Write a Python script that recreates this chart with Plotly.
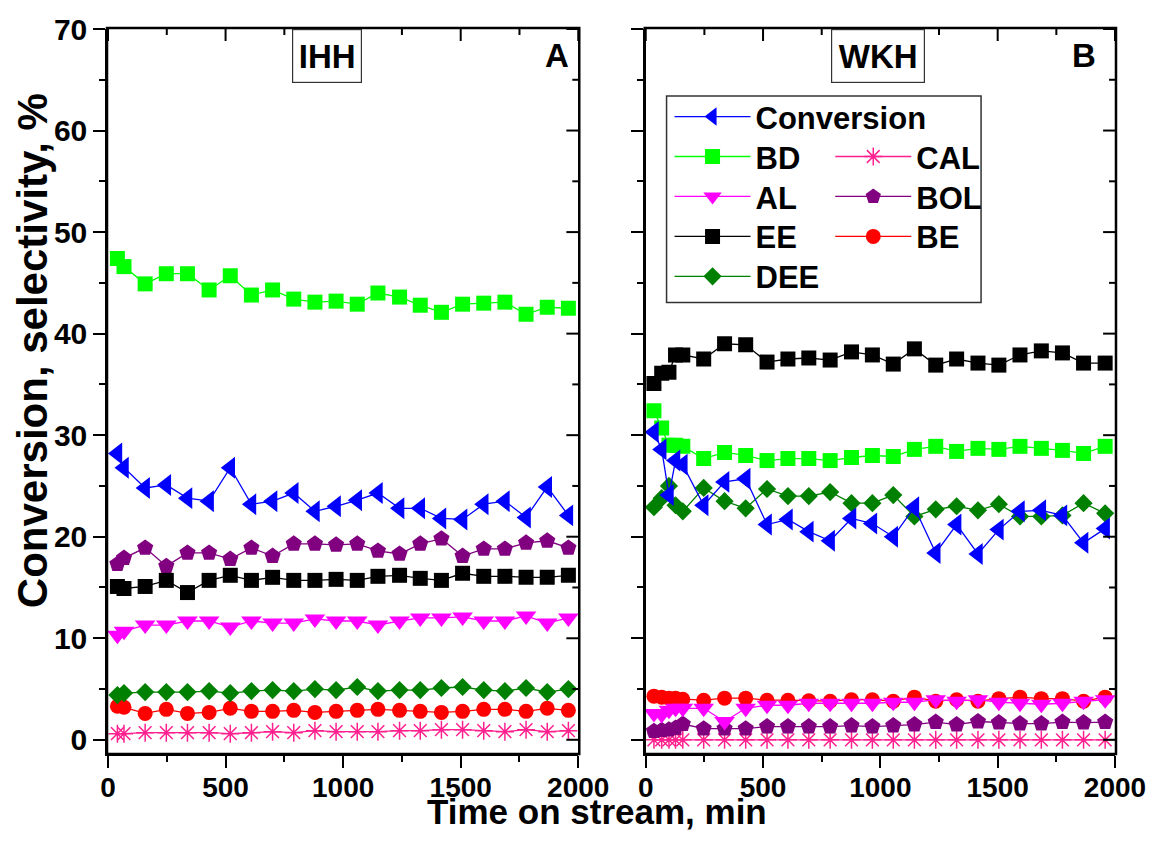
import plotly.graph_objects as go

# ---------------- data ----------------
time_a = [40, 68, 158, 248, 338, 430, 520, 610, 700, 790, 880, 970, 1060, 1148,
          1240, 1328, 1418, 1508, 1598, 1688, 1778, 1868, 1958]
conv_a = [28.2, 26.8, 24.8, 25.1, 23.8, 23.5, 26.8, 23.2, 23.5, 24.3, 22.5, 23.0,
          23.6, 24.3, 22.8, 22.8, 21.8, 21.7, 23.2, 23.5, 21.9, 24.9, 22.1]
bd_a = [47.4, 46.6, 44.9, 45.9, 45.9, 44.3, 45.7, 43.8, 44.3, 43.4, 43.1, 43.2,
        42.9, 44.0, 43.6, 42.8, 42.1, 42.9, 43.0, 43.1, 41.9, 42.6, 42.5]
cal_a = [0.6, 0.6, 0.7, 0.7, 0.7, 0.7, 0.6, 0.7, 0.8, 0.7, 0.9, 0.8,
         0.8, 0.8, 0.9, 0.9, 1.0, 1.0, 0.9, 0.8, 1.0, 0.8, 0.9]
al_a = [10.3, 10.7, 11.3, 11.3, 11.7, 11.7, 11.1, 11.7, 11.5, 11.5, 11.9, 11.7,
        11.7, 11.3, 11.7, 12.0, 12.0, 12.1, 11.7, 11.7, 12.2, 11.5, 12.0]
bol_a = [17.3, 17.9, 18.9, 17.1, 18.4, 18.4, 17.8, 18.9, 18.1, 19.3, 19.3, 19.2,
         19.3, 18.6, 18.3, 19.3, 19.8, 18.1, 18.8, 18.8, 19.4, 19.6, 18.9]
ee_a = [15.1, 14.9, 15.1, 15.7, 14.5, 15.7, 16.2, 15.7, 16.0, 15.7, 15.7, 15.8,
        15.7, 16.1, 16.2, 15.9, 15.7, 16.4, 16.1, 16.1, 16.0, 16.0, 16.2]
be_a = [3.3, 3.2, 2.6, 3.0, 2.6, 2.7, 3.1, 2.8, 2.8, 2.9, 2.7, 2.8,
        2.9, 3.0, 2.9, 2.8, 2.7, 2.8, 3.0, 3.0, 2.8, 3.1, 2.9]
dee_a = [4.4, 4.6, 4.7, 4.7, 4.7, 4.8, 4.6, 4.8, 4.9, 4.8, 5.0, 4.9,
         5.2, 4.8, 4.9, 4.9, 5.1, 5.2, 4.9, 4.8, 5.1, 4.7, 5.0]

time_b = [35, 68, 99, 127, 158, 247, 336, 426, 517, 606, 695, 786, 877, 966,
          1055, 1145, 1236, 1325, 1416, 1505, 1595, 1686, 1776, 1866, 1958]
conv_b = [30.3, 28.6, 24.1, 27.5, 27.1, 23.1, 25.4, 25.7, 21.2, 21.7, 20.5, 19.6,
          21.8, 21.3, 20.0, 22.9, 18.4, 21.2, 18.3, 20.7, 22.5, 22.6, 22.1, 19.4, 20.8]
bd_b = [32.4, 30.7, 29.0, 29.0, 28.9, 27.7, 28.3, 28.0, 27.5, 27.7, 27.7, 27.5,
        27.8, 28.0, 27.9, 28.6, 28.9, 28.4, 28.7, 28.6, 28.9, 28.7, 28.5, 28.2, 28.9]
cal_b = [0.0, 0.0, 0.0, 0.0, 0.0, 0.0, 0.0, 0.0, 0.0, 0.0, 0.0, 0.0,
         0.0, 0.0, 0.0, 0.0, 0.0, 0.0, 0.0, 0.0, 0.0, 0.0, 0.0, 0.0, 0.0]
al_b = [2.6, 2.5, 2.9, 3.1, 3.1, 3.1, 1.8, 3.1, 3.4, 3.4, 3.6, 3.6,
        3.6, 3.6, 3.7, 3.7, 3.95, 3.8, 3.95, 3.7, 3.6, 3.5, 3.6, 3.8, 3.95]
bol_b = [0.85, 0.95, 1.0, 1.15, 1.55, 1.1, 1.1, 1.1, 1.3, 1.3, 1.3, 1.3,
         1.4, 1.3, 1.4, 1.5, 1.75, 1.5, 1.8, 1.7, 1.6, 1.6, 1.75, 1.7, 1.75]
ee_b = [35.1, 36.1, 36.2, 37.9, 37.9, 37.5, 39.0, 38.9, 37.2, 37.5, 37.6, 37.4,
        38.2, 37.9, 37.0, 38.5, 36.9, 37.5, 37.1, 36.9, 37.9, 38.3, 38.1, 37.1, 37.1]
be_b = [4.3, 4.2, 4.1, 4.1, 4.0, 3.9, 4.1, 4.1, 3.9, 3.9, 3.85, 3.8,
        3.95, 3.95, 3.8, 4.2, 3.8, 3.95, 3.8, 4.05, 4.2, 4.05, 4.05, 3.8, 4.2]
dee_b = [22.9, 23.8, 25.0, 23.1, 22.5, 24.8, 23.5, 22.8, 24.7, 24.0, 24.0, 24.4,
         23.3, 23.3, 24.1, 22.0, 22.7, 23.0, 22.6, 23.2, 22.0, 22.0, 22.1, 23.3, 22.3]

x_ticks = [0, 500, 1000, 1500, 2000]
x_minor = [250, 750, 1250, 1750]
y_ticks = [0, 10, 20, 30, 40, 50, 60, 70]
y_minor = [5, 15, 25, 35, 45, 55, 65]

# ---------------- geometry helpers ----------------
W, H = 1158, 841
ML, MR, MT, MB = 108, 35, 28, 88
PW = W - ML - MR
PH = H - MT - MB


def px_x(p):
    return (p - ML) / PW


def px_y(p):
    return 1 - (p - MT) / PH


FONT = "Liberation Sans, Arial, sans-serif"

# legend slots: (legend id, left x px, row centre y px)
LEFT_COL, RIGHT_COL = 674, 836
series = [
    # name, data A, data B, color, symbol, size, legend id, col x, row y
    ("BE", be_a, be_b, "#FF0000", "circle", 15, "legend7", RIGHT_COL, 238),
    ("CAL", cal_a, cal_b, "#FF1F8F", "asterisk-open", 15, "legend3", RIGHT_COL, 158),
    ("BOL", bol_a, bol_b, "#800080", "pentagon", 17, "legend5", RIGHT_COL, 198),
    ("AL", al_a, al_b, "#FF00FF", "triangle-down", 18, "legend4", LEFT_COL, 198),
    ("EE", ee_a, ee_b, "#000000", "square", 15, "legend6", LEFT_COL, 238),
    ("DEE", dee_a, dee_b, "#008000", "diamond", 14, "legend8", LEFT_COL, 278),
    ("BD", bd_a, bd_b, "#00FF00", "square", 15, "legend2", LEFT_COL, 158),
    ("Conversion", conv_a, conv_b, "#0000FF", "triangle-left", 19, "legend", LEFT_COL, 118),
]

fig = go.Figure()
legend_layouts = {}
legfont = dict(family=FONT, size=31, color="black", weight="bold")
for name, ya, yb, col, sym, sz, leg, lx, ly in series:
    is_open = sym.endswith("open")
    mk = dict(color=col, symbol=sym, size=sz,
              line=dict(color=col, width=1.5 if is_open else 0))
    fig.add_trace(go.Scatter(x=time_a, y=ya, mode="lines+markers", name=name,
                             line=dict(color=col, width=1.3), marker=mk,
                             showlegend=False, xaxis="x", yaxis="y"))
    fig.add_trace(go.Scatter(x=time_b, y=yb, mode="lines+markers", name=name,
                             line=dict(color=col, width=1.3), marker=mk,
                             showlegend=True, legend=leg,
                             xaxis="x2", yaxis="y2"))
    legend_layouts[leg] = dict(x=px_x(lx), y=px_y(ly - 29), xanchor="left",
                               yanchor="top", bgcolor="rgba(0,0,0,0)",
                               borderwidth=0, itemwidth=76, font=legfont)

dom_a = [0, px_x(582)]
dom_b = [px_x(650), 1]
xr = [0, 2000]
yr = [-1.3, 70]

LW = 2.5
xtickfont = dict(family=FONT, size=28, color="black", weight="bold")
ytickfont = dict(family=FONT, size=30, color="black", weight="bold")
common_x = dict(range=xr, tickvals=x_ticks, showline=True, linewidth=LW,
                linecolor="black", showgrid=False, zeroline=False,
                ticks="outside", ticklen=12, tickwidth=2, tickcolor="black",
                minor=dict(tickvals=x_minor, ticklen=6, tickwidth=2,
                           tickcolor="black"))
common_y = dict(range=yr, tickvals=y_ticks, showline=True, linewidth=LW,
                linecolor="black", showgrid=False, zeroline=False,
                ticks="outside", ticklen=12, tickwidth=2, tickcolor="black",
                minor=dict(tickvals=y_minor, ticklen=6,
                           tickwidth=2, tickcolor="black"))

fig.update_layout(
    width=W, height=H,
    margin=dict(l=ML, r=MR, t=MT, b=MB),
    paper_bgcolor="white", plot_bgcolor="white",
    font=dict(family=FONT, color="black"),
    xaxis=dict(domain=dom_a, anchor="y", tickfont=xtickfont,
               ticklabelstandoff=-4, **common_x),
    yaxis=dict(domain=[0, 1], anchor="x", tickfont=ytickfont, **common_y),
    xaxis2=dict(domain=dom_b, anchor="y2", tickfont=xtickfont,
                ticklabelstandoff=-4, **common_x),
    yaxis2=dict(domain=[0, 1], anchor="x2", showticklabels=False, **common_y),
    showlegend=True,
    **legend_layouts,
)

# ---- full frame box and inward ticks on top / right (layout shapes) ----
frame = dict(color="black", width=LW)
tick_line = dict(color="black", width=2)
ex = 1.0 / PW   # one pixel in paper units (x)
ey = 1.0 / PH   # one pixel in paper units (y)
for xa, ya_, dom in [("x", "y", dom_a), ("x2", "y2", dom_b)]:
    fig.add_shape(type="rect", xref="paper", yref="paper", layer="above",
                  x0=dom[0] - ex, x1=dom[1] + ex, y0=-ey, y1=1 + ey,
                  line=frame, fillcolor="rgba(0,0,0,0)")
    for vals, ln in [(x_ticks, 12), (x_minor, 6)]:
        for v in vals:
            fig.add_shape(type="line", xref=xa, yref="paper",
                          x0=v, x1=v, y0=1, y1=1 - ln * ey, line=tick_line)
    for vals, ln in [(y_ticks, 12), (y_minor, 6)]:
        for v in vals:
            fig.add_shape(type="line", xref="paper", yref=ya_,
                          x0=dom[1], x1=dom[1] - ln * ex, y0=v, y1=v,
                          line=tick_line)

# legend frame
fig.add_shape(type="rect", xref="paper", yref="paper",
              x0=px_x(671), x1=px_x(988), y0=px_y(302), y1=px_y(95),
              line=dict(color="#333333", width=1.5), fillcolor="rgba(0,0,0,0)")

ann_common = dict(xref="paper", yref="paper", showarrow=False,
                  xanchor="center", yanchor="middle")
lab_font = dict(family=FONT, size=33, color="black", weight="bold")
fig.add_annotation(text="IHH", x=px_x(328.5), y=px_y(55.5), font=lab_font,
                   bordercolor="#333333", borderwidth=1.2, borderpad=0,
                   width=68, height=52, bgcolor="white", **ann_common)
fig.add_annotation(text="A", x=px_x(561), y=px_y(55), font=lab_font,
                   **ann_common)
fig.add_annotation(text="WKH", x=px_x(884.5), y=px_y(55.5), font=lab_font,
                   bordercolor="#333333", borderwidth=1.2, borderpad=0,
                   width=92, height=52, bgcolor="white", **ann_common)
fig.add_annotation(text="B", x=px_x(1092), y=px_y(55), font=lab_font,
                   **ann_common)

fig.add_annotation(text="Conversion, selectivity, %", x=px_x(32), y=px_y(350),
                   textangle=-90,
                   font=dict(family=FONT, size=42, color="black", weight="bold"),
                   **ann_common)
fig.add_annotation(text="Time on stream, min", x=px_x(601), y=px_y(812),
                   font=dict(family=FONT, size=35, color="black", weight="bold"),
                   **ann_common)

fig.write_html("out.html", config={"displayModeBar": False},
               post_script="document.body.style.margin='0px';")
